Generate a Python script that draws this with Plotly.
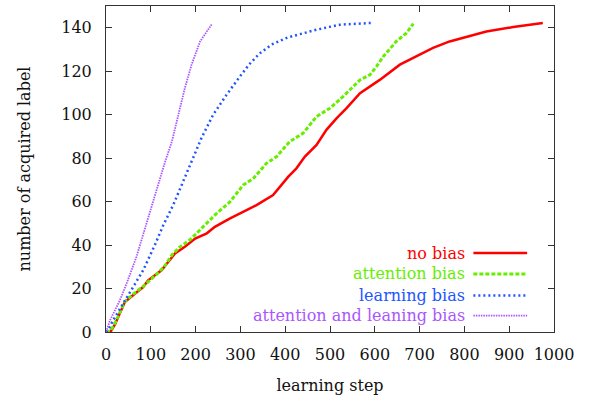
import plotly.graph_objects as go

# ---- data ----
nobias_x = [0, 10, 20, 31, 42, 61, 83, 94, 124, 154, 176, 199, 225, 243, 262, 277, 306, 336,
            373, 388, 407, 425, 444, 470, 492, 515, 537, 567, 589, 611, 656, 693, 730, 767, 805,
            849, 909, 975]
nobias_y = [0, 0, 3.5, 8.5, 13.8, 17, 20.7, 23.8, 28.4, 36.1, 39.2, 43, 45.4, 48.4, 50.7, 52.3, 55.3, 58.4,
            63, 66.9, 71.5, 75.3, 80.7, 86.1, 93, 98.4, 103, 109.9, 113, 116, 123, 126.8, 130.7, 133.7, 135.7,
            138.3, 140.3, 142.2]

attn_x = [0, 10, 20, 31, 42, 61, 83, 110, 130, 147, 165, 187, 210, 225, 247, 269, 277, 306, 329, 358,
          381, 410, 440, 470, 500, 529, 567, 589, 604, 619, 648, 671, 686]
attn_y = [0, 0.5, 4, 9, 14, 17.5, 21, 26, 30, 35.4, 39.2, 42.3, 46.9, 50, 54.6, 58.5, 59.9, 67.6, 70.7, 77.6,
          80.7, 87.6, 91.5, 99.1, 103, 108.3, 116, 118.3, 122.2, 126.8, 133.7, 137.6, 141.9]

learn_x = [0, 5, 16, 39, 61, 83, 109, 128, 150, 172, 191, 213, 239, 269, 299, 320, 343, 370, 405, 440,
           470, 522, 593]
learn_y = [0, 1, 5.4, 13.1, 20.7, 28.4, 40, 49.2, 58.4, 69.2, 78.4, 89.2, 99.9, 109.1, 117.6, 123.2, 128.2,
           132.3, 135.5, 137.6, 139.1, 141.4, 142.2]

both_x = [0, 9, 31, 46, 68, 87, 102, 117, 132, 147, 161, 176, 191, 210, 236]
both_y = [0, 5.4, 14.6, 22.3, 34.6, 47.7, 58.4, 69.2, 78.4, 87.6, 99.9, 112.2, 123, 133.7, 141.6]

names = ["no bias", "attention bias", "learning bias", "attention and leaning bias"]
colors = ["#ff0000", "#66ee00", "#2255ff", "#aa55ff"]
dashes = ["solid", "4px,2px", "2px,3px", "1.5px,1px"]
widths = [2.5, 3, 2.5, 1.8]
xs = [nobias_x, attn_x, learn_x, both_x]
ys = [nobias_y, attn_y, learn_y, both_y]

FONT = "DejaVu Serif"
FS = 16

fig = go.Figure()
for x, y, c, d, w, n in zip(xs, ys, colors, dashes, widths, names):
    fig.add_trace(go.Scatter(x=x, y=y, mode="lines", name=n,
                             line=dict(color=c, dash=d, width=w), showlegend=False))

# custom gnuplot-style key (text right, sample to the right)
key_y = [0.242, 0.178, 0.112, 0.050]
for n, c, d, w, ky in zip(names, colors, dashes, widths, key_y):
    fig.add_annotation(x=0.805, y=ky, xref="paper", yref="paper", text=n,
                       showarrow=False, xanchor="right", yanchor="middle",
                       font=dict(family=FONT, size=FS, color=c))
    fig.add_shape(type="line", xref="paper", yref="paper", x0=0.82, x1=0.94, y0=ky, y1=ky,
                  line=dict(color=c, dash=d, width=w))

axis_common = dict(showline=True, linecolor="#333333", linewidth=1, mirror="ticks",
                   ticks="inside", ticklen=6, tickcolor="#333333", showgrid=False, zeroline=False,
                   tickfont=dict(family=FONT, size=FS, color="#111111"))

fig.update_xaxes(range=[0, 1000], dtick=100, title=dict(text="learning step", standoff=16,
                 font=dict(family=FONT, size=FS, color="#111111")), ticklabelstandoff=8, **axis_common)
fig.update_yaxes(range=[0, 150], tickvals=[0, 20, 40, 60, 80, 100, 120, 140],
                 title=dict(text="number of acquired label", standoff=26,
                            font=dict(family=FONT, size=FS, color="#111111")),
                 ticklabelstandoff=10, **axis_common)

fig.update_layout(width=595, height=399, margin=dict(l=106, r=41, t=6, b=67),
                  paper_bgcolor="white", plot_bgcolor="white",
                  font=dict(family=FONT, size=FS, color="#111111"))

fig.write_html("out.html")
